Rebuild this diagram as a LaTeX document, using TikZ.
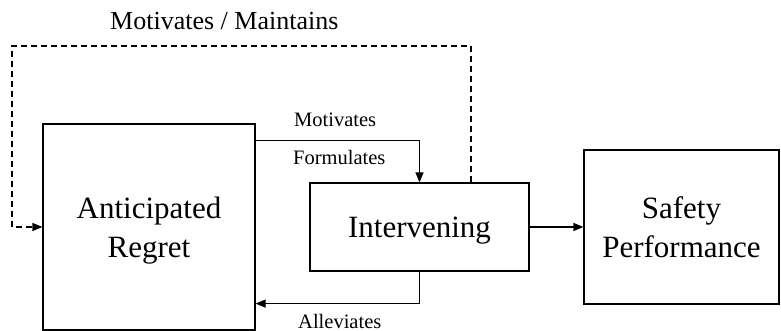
\documentclass[tikz,border=0pt]{standalone}
\usepackage{fontspec}
\setmainfont{Liberation Serif}
\usetikzlibrary{arrows.meta,calc}

\tikzset{
  box/.style={draw, line width=1.2pt, align=center, inner sep=0pt,
    font=\fontsize{31}{39}\selectfont, text depth=0pt},
  link/.style={line width=1.2pt, -{Triangle[length=10pt,width=8pt]}},
  dashlink/.style={link, dash pattern=on 6pt off 4pt},
  lbl/.style={inner sep=0pt, font=\fontsize{20.5}{24}\selectfont},
  biglbl/.style={inner sep=0pt, font=\fontsize{26}{30}\selectfont}
}

\begin{document}
\begin{tikzpicture}[x=1pt, y=-1pt]
  \useasboundingbox (0,0) rectangle (781,331);

  % main blocks
  \node[box, minimum width=212pt, minimum height=206pt] (ar) at (149,227)
    {Anticipated\\Regret};
  \node[box, minimum width=219pt, minimum height=88pt, text height=20.5pt] (int) at (419.5,227)
    {Intervening};
  \node[box, minimum width=195pt, minimum height=154pt] (sp) at (681.5,227)
    {Safety\\Performance};

  % solid connectors
  \draw[link] ($(ar.north east)+(0,17)$) -| (int.north);
  \draw[link] (int.south) |- ($(ar.south east)+(0,-27)$);
  \draw[link] (int.east) -- (sp.west);

  % dashed feedback loop
  \coordinate (fbstart) at ($(int.north)+(51.5,0)$);
  \coordinate (fbcorner) at (12,46);
  \draw[dashlink] (fbstart) |- (fbcorner) |- (ar.west);

  % labels
  \node[biglbl, anchor=base west] (lmm) at (110,30) {Motivates / Maintains};
  \node[lbl, anchor=base west] (lmot) at (294,127) {Motivates};
  \node[lbl, anchor=base west] (lfor) at (293,165) {Formulates};
  \node[lbl, anchor=base west] (lall) at (298,328) {Alleviates};
\end{tikzpicture}
\end{document}
